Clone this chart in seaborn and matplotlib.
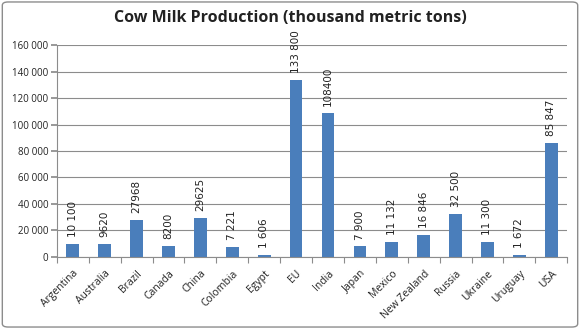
import matplotlib
matplotlib.use("Agg")
import matplotlib.pyplot as plt
import seaborn as sns
import pandas as pd
from matplotlib.ticker import FuncFormatter, FixedLocator
from matplotlib.patches import FancyBboxPatch

countries = ["Argentina", "Australia", "Brazil", "Canada", "China", "Colombia", "Egypt", "EU",
             "India", "Japan", "Mexico", "New Zealand", "Russia", "Ukraine", "Uruguay", "USA"]
values = [10100, 9620, 27968, 8200, 29625, 7221, 1606, 133800,
          108400, 7900, 11132, 16846, 32500, 11300, 1672, 85847]
value_labels = ["10 100", "9620", "27968", "8200", "29625", "7 221", "1 606", "133 800",
                "108400", "7 900", "11 132", "16 846", "32 500", "11 300", "1 672", "85 847"]
title = "Cow Milk Production (thousand metric tons)"

sns.set_theme(style="white")
plt.rcParams['font.family'] = ['Open Sans', 'DejaVu Sans']

df = pd.DataFrame({"country": countries, "value": values})
fig = plt.figure(figsize=(5.8, 3.29), dpi=100)
ax = fig.add_axes([0.098, 0.219, 0.88, 0.644])
sns.barplot(data=df, x="country", y="value", color="#4a7ebb", saturation=1, width=0.4,
            linewidth=0, ax=ax)

ax.set_ylim(0, 160000)
ax.set_xlim(-0.5, len(countries) - 0.5)
ax.yaxis.set_major_locator(FixedLocator(range(0, 160001, 20000)))
ax.yaxis.set_major_formatter(FuncFormatter(lambda v, p: f"{int(v):,}".replace(",", " ")))
ax.grid(axis="y", color="#8c8c8c", linewidth=0.8)
ax.set_axisbelow(True)
for s in ["top", "right"]:
    ax.spines[s].set_visible(False)
ax.spines["left"].set_color("#8c8c8c")
ax.spines["bottom"].set_color("#8c8c8c")
ax.spines["left"].set_linewidth(0.8)
ax.spines["bottom"].set_linewidth(0.8)
ax.set_xlabel("")
ax.set_ylabel("")
ax.tick_params(axis="y", left=True, length=4, color="#8c8c8c", labelsize=7, colors="#8c8c8c", labelcolor="#222222", pad=2)
ax.tick_params(axis="x", bottom=False, labelsize=7.5, labelcolor="#222222", pad=2)
plt.setp(ax.get_xticklabels(), rotation=45, ha="right", rotation_mode="anchor")
ax.set_xticks([i - 0.5 for i in range(len(countries) + 1)], minor=True)
ax.tick_params(axis="x", which="minor", bottom=True, length=4, color="#8c8c8c", width=0.8)

for i, (v, lab) in enumerate(zip(values, value_labels)):
    ax.annotate(lab, (i, v), xytext=(0, 5), textcoords="offset points", rotation=90,
                ha="center", va="bottom", fontsize=7.5, color="#222222", family=["DejaVu Sans"])

fig.text(0.5, 0.945, title, ha="center", va="center", fontsize=11.5, fontweight="bold", color="#222222")
fig.patches.append(FancyBboxPatch((0.004, 0.006), 0.992, 0.988, boxstyle="round,pad=0,rounding_size=0.01",
                                  transform=fig.transFigure, fill=False, edgecolor="#8c8c8c", linewidth=1))
fig.savefig("out.png", dpi=100)
